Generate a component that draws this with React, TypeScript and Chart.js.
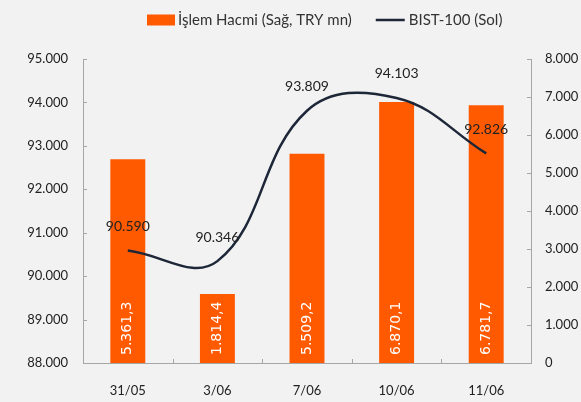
import { useEffect, useRef } from "react";
import { Chart, registerables } from "chart.js";
Chart.register(...registerables);

const categories = ["31/05", "3/06", "7/06", "10/06", "11/06"];
const volumeValues = [5361.3, 1814.4, 5509.2, 6870.1, 6781.7];
const bistValues = [90590, 90346, 93809, 94103, 92826];
const leftAxis = { min: 88000, max: 95000, step: 1000 };
const rightAxis = { min: 0, max: 8000, step: 1000 };
const legendLabels = ["İşlem Hacmi (Sağ, TRY mn)", "BIST-100 (Sol)"];

const ORANGE = "#ff5a00";
const NAVY = "#1d2738";
const AXIS = "#a6a6a6";
const TEXT = "#222222";
const FONT = "Lato";

function thousands(v: number): string {
  return Math.round(v).toString().replace(/\B(?=(\d{3})+(?!\d))/g, ".");
}
function trDecimal(v: number): string {
  const [i, d] = v.toFixed(1).split(".");
  return i.replace(/\B(?=(\d{3})+(?!\d))/g, ".") + "," + d;
}

const decorPlugin = {
  id: "decor",
  afterDatasetsDraw(chart: any) {
    const ctx = chart.ctx as CanvasRenderingContext2D;
    const xs = chart.scales.x;
    const yl = chart.scales.yLeft;
    const yr = chart.scales.yRight;
    const area = chart.chartArea;
    ctx.save();
    // inward tick marks
    ctx.strokeStyle = AXIS;
    ctx.lineWidth = 1;
    ctx.beginPath();
    yl.ticks.forEach((t: any) => {
      const y = Math.round(yl.getPixelForValue(t.value)) + 0.5;
      ctx.moveTo(area.left, y);
      ctx.lineTo(area.left + 4, y);
    });
    yr.ticks.forEach((t: any) => {
      const y = Math.round(yr.getPixelForValue(t.value)) + 0.5;
      ctx.moveTo(area.right, y);
      ctx.lineTo(area.right - 4, y);
    });
    for (let i = 0; i < categories.length - 1; i++) {
      const x = Math.round((xs.getPixelForValue(i) + xs.getPixelForValue(i + 1)) / 2) + 0.5;
      ctx.moveTo(x, area.bottom);
      ctx.lineTo(x, area.bottom - 4);
    }
    ctx.stroke();

    // bar labels
    const barMeta = chart.getDatasetMeta(1);
    ctx.fillStyle = "#ffffff";
    ctx.font = "14px 'DejaVu Sans'";
    ctx.textAlign = "left";
    ctx.textBaseline = "middle";
    barMeta.data.forEach((el: any, i: number) => {
      ctx.save();
      ctx.translate(el.x, area.bottom - 8);
      ctx.rotate(-Math.PI / 2);
      ctx.fillText(trDecimal(volumeValues[i]), 0, 0);
      ctx.restore();
    });

    // line labels
    const lineMeta = chart.getDatasetMeta(0);
    ctx.fillStyle = TEXT;
    ctx.font = `14px ${FONT}`;
    ctx.textAlign = "center";
    lineMeta.data.forEach((el: any, i: number) => {
      ctx.fillText(thousands(bistValues[i]), el.x, el.y - 24);
    });

    // legend
    ctx.font = `15px ${FONT}`;
    ctx.textAlign = "left";
    ctx.textBaseline = "middle";
    let x = 147;
    const y = 20;
    ctx.fillStyle = ORANGE;
    ctx.fillRect(x, y - 5.5, 28, 11);
    x += 31;
    ctx.fillStyle = "#333333";
    ctx.fillText(legendLabels[0], x, y);
    x += ctx.measureText(legendLabels[0]).width + 24;
    ctx.strokeStyle = NAVY;
    ctx.lineWidth = 2.5;
    ctx.beginPath();
    ctx.moveTo(x, y);
    ctx.lineTo(x + 29, y);
    ctx.stroke();
    x += 33;
    ctx.fillText(legendLabels[1], x, y);
    ctx.restore();
  },
};

export default function App() {
  const ref = useRef<HTMLCanvasElement | null>(null);
  useEffect(() => {
    document.body.style.margin = "0";
    document.body.style.background = "#f2f2f2";
    if (!ref.current) return;
    const tickFont = { family: FONT, size: 13 };
    const chart = new Chart(ref.current, {
      type: "bar",
      data: {
        labels: categories,
        datasets: [
          {
            type: "line",
            label: legendLabels[1],
            data: bistValues,
            yAxisID: "yLeft",
            borderColor: NAVY,
            backgroundColor: NAVY,
            borderWidth: 2.5,
            pointRadius: 0,
            tension: 0.4,
            order: 0,
          } as any,
          {
            type: "bar",
            label: legendLabels[0],
            data: volumeValues,
            yAxisID: "yRight",
            backgroundColor: ORANGE,
            categoryPercentage: 1,
            barPercentage: 0.39,
            order: 1,
          },
        ],
      },
      options: {
        responsive: false,
        animation: false,
        layout: { padding: { top: 59, left: 0, right: 0, bottom: 0 } },
        plugins: { legend: { display: false }, tooltip: { enabled: false } },
        scales: {
          x: {
            offset: true,
            grid: { display: false, drawTicks: false },
            border: { display: true, color: AXIS },
            ticks: { font: tickFont, color: TEXT, padding: 20, maxRotation: 0 },
            afterFit: (s: any) => {
              s.height = 39;
            },
          },
          yLeft: {
            position: "left",
            min: leftAxis.min,
            max: leftAxis.max,
            grid: { display: false, drawTicks: false },
            border: { display: true, color: AXIS },
            ticks: {
              stepSize: leftAxis.step,
              font: tickFont,
              color: TEXT,
              padding: 15,
              callback: (v: any) => thousands(Number(v)),
            },
            afterFit: (s: any) => {
              s.width = 83;
            },
          },
          yRight: {
            position: "right",
            min: rightAxis.min,
            max: rightAxis.max,
            grid: { display: false, drawTicks: false },
            border: { display: true, color: AXIS },
            ticks: {
              stepSize: rightAxis.step,
              font: tickFont,
              color: TEXT,
              padding: 14,
              callback: (v: any) => thousands(Number(v)),
            },
            afterFit: (s: any) => {
              s.width = 50;
            },
          },
        },
      },
      plugins: [decorPlugin],
    });
    return () => chart.destroy();
  }, []);
  return (
    <div style={{ width: 581, height: 402, background: "#f2f2f2" }}>
      <canvas ref={ref} width={581} height={402} />
    </div>
  );
}
